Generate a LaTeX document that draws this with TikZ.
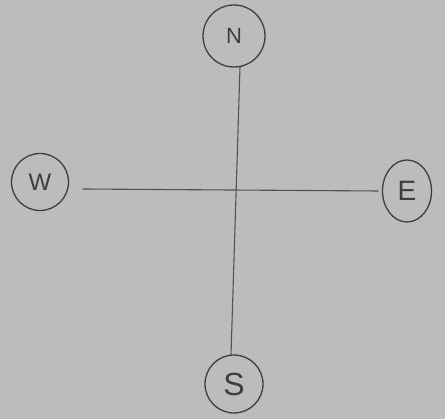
\documentclass[tikz,border=0pt]{standalone}
\usepackage{fontspec}
\setmainfont{Liberation Sans}
\usetikzlibrary{shapes.geometric}
\definecolor{paper}{RGB}{188,189,187}
\definecolor{ink}{RGB}{62,62,62}
\begin{document}
\begin{tikzpicture}[x=1pt,y=-1pt,
  dir/.style={draw=ink,line width=1.3pt,circle,inner sep=0pt,outer sep=0pt,text=ink},
  axis/.style={draw=ink!85!paper,line width=1.1pt}]
\fill[paper] (0,0) rectangle (445,419);
\useasboundingbox (0,0) rectangle (445,419);
\node[dir,minimum size=62pt,font=\fontsize{22}{22}\selectfont] (N) at (234,36) {N};
\node[dir,minimum size=57pt,font=\fontsize{24}{24}\selectfont] (W) at (40,182) {W};
\node[dir,ellipse,minimum width=49pt,minimum height=62pt,font=\fontsize{28}{28}\selectfont] (E) at (407,191) {E};
\node[dir,minimum size=58pt,font=\fontsize{32}{32}\selectfont] (S) at (234,384) {S};
\draw[axis] ([shift={(6,0)}]N.south) -- ([shift={(-3,0)}]S.north);
\draw[axis] ([shift={(14,7)}]W.east) -- ([shift={(-4,0)}]E.west);
\end{tikzpicture}
\end{document}
